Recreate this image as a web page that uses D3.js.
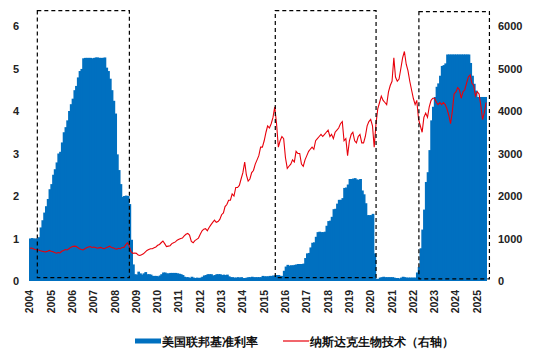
<!DOCTYPE html>
<html><head><meta charset="utf-8">
<script src="https://cdn.jsdelivr.net/npm/d3@7"></script>
<style>
html,body{margin:0;padding:0;background:#fff;}
svg{display:block;}
text{font-family:"Liberation Sans",Arial,sans-serif;}
</style></head>
<body>
<svg id="chart" width="533" height="357"></svg>
<script>
// Years covered (monthly data from Jan 2004 to Jun 2025)
const startYear = 2004;
const yearTicks = d3.range(2004, 2026);
const leftTicks = [0,1,2,3,4,5,6];
const rightTicks = [0,1000,2000,3000,4000,5000,6000];
const seriesNames = ["美国联邦基准利率", "纳斯达克生物技术（右轴）"];

// Federal funds rate (%), monthly
const fedRate = [
 1.00,1.01,1.00,1.00,1.00,1.03,1.26,1.43,1.61,1.76,1.93,2.16,
 2.28,2.50,2.63,2.79,3.00,3.04,3.26,3.50,3.62,3.78,4.00,4.16,
 4.29,4.49,4.59,4.79,4.94,4.99,5.24,5.25,5.25,5.25,5.25,5.24,
 5.25,5.26,5.26,5.25,5.25,5.25,5.26,5.02,4.94,4.76,4.49,4.24,
 3.94,2.98,2.61,2.28,1.98,2.00,2.01,2.00,1.81,0.97,0.39,0.16,
 0.15,0.22,0.18,0.15,0.18,0.21,0.16,0.16,0.15,0.12,0.12,0.12,
 0.11,0.13,0.16,0.20,0.20,0.18,0.18,0.19,0.19,0.19,0.19,0.18,
 0.17,0.16,0.14,0.10,0.09,0.09,0.07,0.10,0.08,0.07,0.08,0.07,
 0.08,0.10,0.13,0.14,0.16,0.16,0.16,0.13,0.14,0.16,0.16,0.16,
 0.14,0.15,0.14,0.15,0.11,0.09,0.09,0.08,0.08,0.09,0.08,0.09,
 0.07,0.07,0.08,0.09,0.09,0.10,0.09,0.09,0.09,0.09,0.09,0.12,
 0.11,0.11,0.11,0.12,0.12,0.13,0.13,0.14,0.14,0.12,0.12,0.24,
 0.34,0.38,0.36,0.37,0.37,0.38,0.39,0.40,0.40,0.40,0.41,0.54,
 0.65,0.66,0.79,0.90,0.91,1.04,1.15,1.16,1.15,1.15,1.16,1.30,
 1.41,1.42,1.51,1.69,1.70,1.82,1.91,1.91,1.95,2.19,2.20,2.27,
 2.40,2.40,2.41,2.42,2.39,2.38,2.40,2.13,2.04,1.83,1.55,1.55,
 1.55,1.58,0.65,0.05,0.05,0.08,0.09,0.10,0.09,0.09,0.09,0.09,
 0.09,0.08,0.07,0.07,0.06,0.08,0.10,0.09,0.08,0.08,0.08,0.08,
 0.08,0.08,0.20,0.33,0.77,1.21,1.68,2.33,2.56,3.08,3.78,4.10,
 4.33,4.57,4.65,4.83,5.06,5.08,5.12,5.33,5.33,5.33,5.33,5.33,
 5.33,5.33,5.33,5.33,5.33,5.33,5.33,5.33,5.13,4.83,4.64,4.48,
 4.33,4.33,4.33,4.33,4.33,4.33
];

// Nasdaq Biotechnology index, monthly (right axis)
const nbi = [
 770,775,760,740,735,730,710,700,690,685,700,720,
 700,690,670,655,670,660,700,720,740,730,760,790,
 810,820,815,790,760,740,730,760,780,800,810,790,
 800,790,770,780,790,770,760,780,800,820,790,780,
 760,750,770,760,790,790,850,900,820,690,650,660,
 650,610,600,620,640,680,720,740,760,760,780,800,
 840,860,900,940,880,810,820,830,880,900,920,960,
 980,1000,1010,1060,1100,1120,1080,930,900,950,980,1010,
 1100,1180,1220,1230,1180,1260,1320,1380,1430,1380,1400,1450,
 1560,1600,1750,1800,1900,1900,2050,2000,2200,2200,2250,2400,
 2550,2800,2500,2350,2400,2550,2600,2750,2850,2950,3150,3150,
 3300,3500,3650,3600,3700,3850,4100,3700,3150,3300,3400,3350,
 2900,2650,2700,2750,2850,2800,3050,3000,3000,2750,2700,2850,
 2950,3050,3100,3150,3100,3300,3350,3400,3450,3400,3450,3500,
 3550,3400,3450,3350,3500,3550,3600,3700,3750,3300,3350,2950,
 3300,3450,3500,3300,3250,3400,3450,3250,3250,3400,3650,3750,
 3800,3650,3150,3700,4050,4200,4350,4250,4200,4150,4450,4600,
 4700,5250,4800,4700,4750,5000,5250,5400,5100,4950,4700,4500,
 4300,4150,4250,3800,3650,3500,3850,3950,3850,4100,4250,4300,
 4300,4200,4150,4200,4150,4200,4150,4050,3900,3700,4000,4400,
 4450,4550,4500,4300,4450,4500,4650,4800,4850,4650,4600,4350,
 4450,4400,4150,3800,3950,4200
];

// Highlighted periods (dashed boxes): start/end as fractional years, top/bottom on left axis
const boxStarts = [2004.39, 2015.56, 2022.30];
const boxEnds   = [2008.71, 2020.29, 2025.61];
const boxTops   = [6.36, 6.36, 6.34];
const boxBottoms= [0.08, 0.08, 0.05];

const months = fedRate.map((_, i) => new Date(startYear + Math.floor(i/12), i % 12, 1));
const fracDate = f => { const y = Math.floor(f); const d0 = new Date(y,0,1), d1 = new Date(y+1,0,1); return new Date(+d0 + (f-y)*(d1-d0)); };

const svg = d3.select("#chart");
const x = d3.scaleTime().domain([new Date(2004,0,1), new Date(2025,6,1)]).range([29, 487]);
const yL = d3.scaleLinear().domain([0,6]).range([281, 26]);
const yR = d3.scaleLinear().domain([0,6000]).range([281, 26]);

const blue = "#0070C0", red = "#E8000B";

// bars
svg.append("g").selectAll("rect").data(fedRate).join("rect")
  .attr("x", (d,i) => x(months[i]))
  .attr("width", (d,i) => (i === fedRate.length-1 ? 0 : 1.0) + x(d3.timeMonth.offset(months[i],1)) - x(months[i]))
  .attr("y", d => yL(d))
  .attr("height", d => yL(0) - yL(d))
  .attr("fill", blue);

// NBI line
const line = d3.line()
  .x((d,i) => x(d3.timeDay.offset(months[i], 14)))
  .y(d => yR(d));
svg.append("path").datum(nbi).attr("d", line)
  .attr("fill","none").attr("stroke", red).attr("stroke-width", 1.1);

// dashed boxes
svg.append("g").selectAll("rect").data(boxStarts).join("rect")
  .attr("x", (d,i) => x(fracDate(d)))
  .attr("y", (d,i) => yL(boxTops[i]))
  .attr("width", (d,i) => x(fracDate(boxEnds[i])) - x(fracDate(d)))
  .attr("height", (d,i) => yL(boxBottoms[i]) - yL(boxTops[i]))
  .attr("fill","none").attr("stroke","#000").attr("stroke-width",1.2)
  .attr("stroke-dasharray","4,3");

// left axis
const axL = d3.axisLeft(yL).tickValues(leftTicks).tickSize(0).tickPadding(0).tickFormat(d3.format("d"));
const gL = svg.append("g").attr("transform","translate(19,0)").call(axL);
gL.select(".domain").remove();
gL.selectAll("text").attr("font-size", 11).attr("font-weight","bold").attr("fill","#222")
  .attr("font-family","Liberation Sans, Arial, sans-serif");

// right axis
const axR = d3.axisRight(yR).tickValues(rightTicks).tickSize(0).tickPadding(0).tickFormat(d3.format("d"));
const gR = svg.append("g").attr("transform","translate(498,0)").call(axR);
gR.select(".domain").remove();
gR.selectAll("text").attr("font-size", 11).attr("font-weight","bold").attr("fill","#222")
  .attr("font-family","Liberation Sans, Arial, sans-serif");

// bottom axis (years, rotated)
const axB = d3.axisBottom(x).tickValues(yearTicks.map(yv => new Date(yv,0,1))).tickSize(0).tickFormat(d3.timeFormat("%Y"));
const gB = svg.append("g").attr("transform","translate(0,281)").call(axB);
gB.select(".domain").remove();
gB.selectAll("text")
  .attr("font-size", 10.5).attr("font-weight","bold").attr("fill","#222")
  .attr("font-family","Liberation Sans, Arial, sans-serif")
  .attr("text-anchor","end")
  .attr("transform","translate(0,9) rotate(-90)")
  .attr("x", 0).attr("y", 0).attr("dy","0.36em");

// legend
const lg = svg.append("g");
lg.append("rect").attr("x",135).attr("y",338.5).attr("width",26).attr("height",5).attr("fill",blue);
lg.append("text").attr("x",162).attr("y",345.5).text(seriesNames[0])
  .attr("font-size",12).attr("font-weight","bold").attr("fill","#111")
  .attr("font-family","Noto Sans CJK SC, sans-serif");
lg.append("line").attr("x1",283).attr("x2",309).attr("y1",341).attr("y2",341).attr("stroke",red).attr("stroke-width",1.2);
lg.append("text").attr("x",310).attr("y",345.5).text(seriesNames[1])
  .attr("font-size",12).attr("font-weight","bold").attr("fill","#111")
  .attr("font-family","Noto Sans CJK SC, sans-serif");
</script>
</body></html>
